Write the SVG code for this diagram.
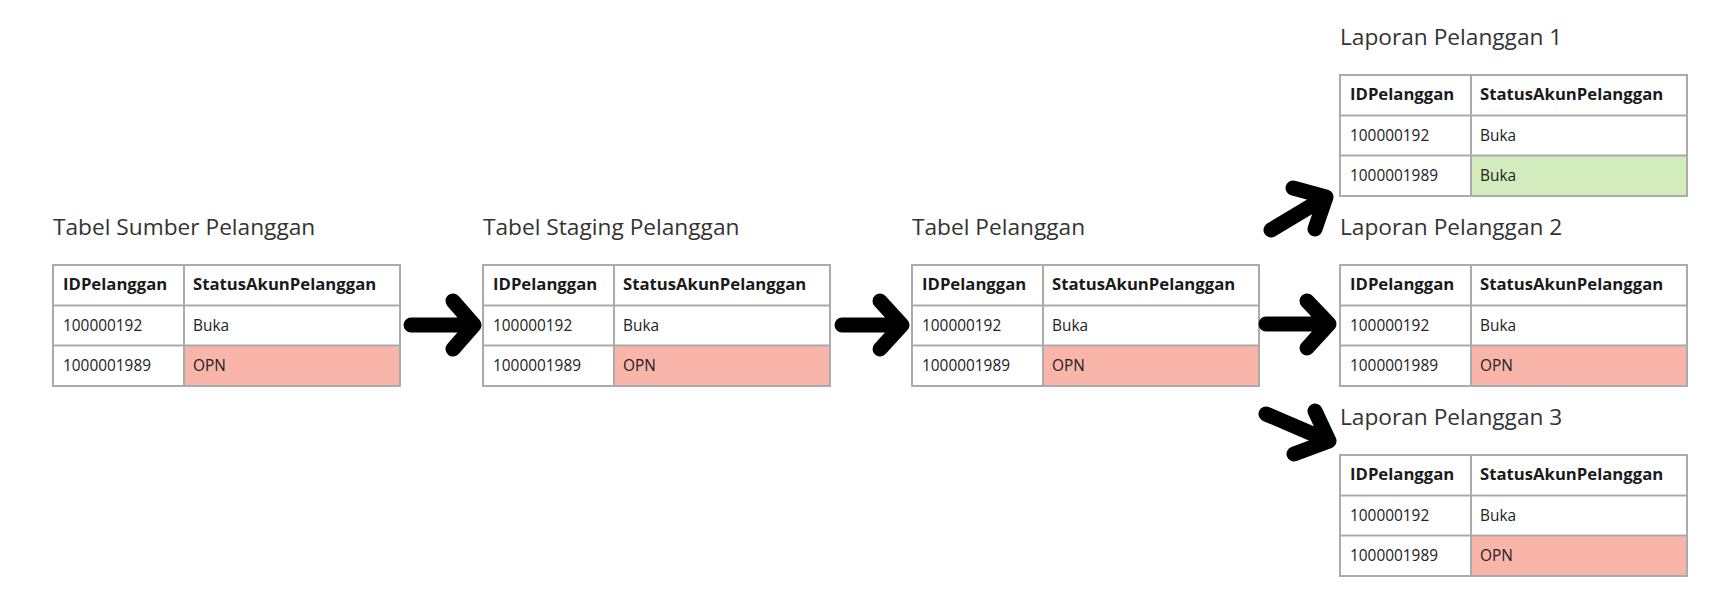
<svg xmlns="http://www.w3.org/2000/svg" width="1728" height="608" viewBox="0 0 1728 608">
<style>
.title{font-family:"Open Sans","Liberation Sans",sans-serif;font-size:22.7px;fill:#333}
.hd{font-family:"Open Sans","Liberation Sans",sans-serif;font-size:16.7px;font-weight:bold;fill:#1a1a1a}
.td{font-family:"Open Sans","Liberation Sans",sans-serif;font-size:15.4px;fill:#222}
.grid{fill:none;stroke:#ababab;stroke-width:2}
.bg{fill:#fff}
.red{fill:#f9b5aa}
.green{fill:#d3ecbd}
.arrow{fill:none;stroke:#000;stroke-width:15;stroke-linecap:round;stroke-linejoin:round}
</style>
<rect width="1728" height="608" fill="#fff"/>

<g id="tabel-sumber">
<text class="title" x="53" y="235">Tabel Sumber Pelanggan</text>
<g transform="translate(53,265)">
<rect class="bg" x="0" y="0" width="347" height="121"/>
<rect class="red" x="131" y="80.5" width="216" height="40.5"/>
<rect class="grid" x="0" y="0" width="347" height="121"/>
<path class="grid" d="M131,0V121M0,40.5H347M0,80.5H347"/>
<text class="hd" x="10" y="25">IDPelanggan</text>
<text class="hd" x="140" y="25">StatusAkunPelanggan</text>
<text class="td" x="10" y="65.5">100000192</text>
<text class="td" x="140" y="65.5">Buka</text>
<text class="td" x="10" y="105.5">1000001989</text>
<text class="td" x="140" y="105.5">OPN</text>
</g>
</g>

<g id="tabel-staging">
<text class="title" x="483" y="235">Tabel Staging Pelanggan</text>
<g transform="translate(483,265)">
<rect class="bg" x="0" y="0" width="347" height="121"/>
<rect class="red" x="131" y="80.5" width="216" height="40.5"/>
<rect class="grid" x="0" y="0" width="347" height="121"/>
<path class="grid" d="M131,0V121M0,40.5H347M0,80.5H347"/>
<text class="hd" x="10" y="25">IDPelanggan</text>
<text class="hd" x="140" y="25">StatusAkunPelanggan</text>
<text class="td" x="10" y="65.5">100000192</text>
<text class="td" x="140" y="65.5">Buka</text>
<text class="td" x="10" y="105.5">1000001989</text>
<text class="td" x="140" y="105.5">OPN</text>
</g>
</g>

<g id="tabel-pelanggan">
<text class="title" x="912" y="235">Tabel Pelanggan</text>
<g transform="translate(912,265)">
<rect class="bg" x="0" y="0" width="347" height="121"/>
<rect class="red" x="131" y="80.5" width="216" height="40.5"/>
<rect class="grid" x="0" y="0" width="347" height="121"/>
<path class="grid" d="M131,0V121M0,40.5H347M0,80.5H347"/>
<text class="hd" x="10" y="25">IDPelanggan</text>
<text class="hd" x="140" y="25">StatusAkunPelanggan</text>
<text class="td" x="10" y="65.5">100000192</text>
<text class="td" x="140" y="65.5">Buka</text>
<text class="td" x="10" y="105.5">1000001989</text>
<text class="td" x="140" y="105.5">OPN</text>
</g>
</g>

<g id="laporan-1">
<text class="title" x="1340" y="45">Laporan Pelanggan 1</text>
<g transform="translate(1340,75)">
<rect class="bg" x="0" y="0" width="347" height="121"/>
<rect class="green" x="131" y="80.5" width="216" height="40.5"/>
<rect class="grid" x="0" y="0" width="347" height="121"/>
<path class="grid" d="M131,0V121M0,40.5H347M0,80.5H347"/>
<text class="hd" x="10" y="25">IDPelanggan</text>
<text class="hd" x="140" y="25">StatusAkunPelanggan</text>
<text class="td" x="10" y="65.5">100000192</text>
<text class="td" x="140" y="65.5">Buka</text>
<text class="td" x="10" y="105.5">1000001989</text>
<text class="td" x="140" y="105.5">Buka</text>
</g>
</g>

<g id="laporan-2">
<text class="title" x="1340" y="235">Laporan Pelanggan 2</text>
<g transform="translate(1340,265)">
<rect class="bg" x="0" y="0" width="347" height="121"/>
<rect class="red" x="131" y="80.5" width="216" height="40.5"/>
<rect class="grid" x="0" y="0" width="347" height="121"/>
<path class="grid" d="M131,0V121M0,40.5H347M0,80.5H347"/>
<text class="hd" x="10" y="25">IDPelanggan</text>
<text class="hd" x="140" y="25">StatusAkunPelanggan</text>
<text class="td" x="10" y="65.5">100000192</text>
<text class="td" x="140" y="65.5">Buka</text>
<text class="td" x="10" y="105.5">1000001989</text>
<text class="td" x="140" y="105.5">OPN</text>
</g>
</g>

<g id="laporan-3">
<text class="title" x="1340" y="425">Laporan Pelanggan 3</text>
<g transform="translate(1340,455)">
<rect class="bg" x="0" y="0" width="347" height="121"/>
<rect class="red" x="131" y="80.5" width="216" height="40.5"/>
<rect class="grid" x="0" y="0" width="347" height="121"/>
<path class="grid" d="M131,0V121M0,40.5H347M0,80.5H347"/>
<text class="hd" x="10" y="25">IDPelanggan</text>
<text class="hd" x="140" y="25">StatusAkunPelanggan</text>
<text class="td" x="10" y="65.5">100000192</text>
<text class="td" x="140" y="65.5">Buka</text>
<text class="td" x="10" y="105.5">1000001989</text>
<text class="td" x="140" y="105.5">OPN</text>
</g>
</g>

<g id="connectors">
<path class="arrow" d="M411,325H474M453,301L474,325L453,349"/>
<path class="arrow" d="M842,325H902M880,301L902,325L880,349"/>
<path class="arrow" d="M1266,324H1329M1307,301L1329,324L1307,348"/>
<path class="arrow" d="M1271,230L1326,197M1293,188L1326,197L1315,229"/>
<path class="arrow" d="M1266,414L1329,441M1315,411L1329,441L1294,454"/>
</g>
</svg>
